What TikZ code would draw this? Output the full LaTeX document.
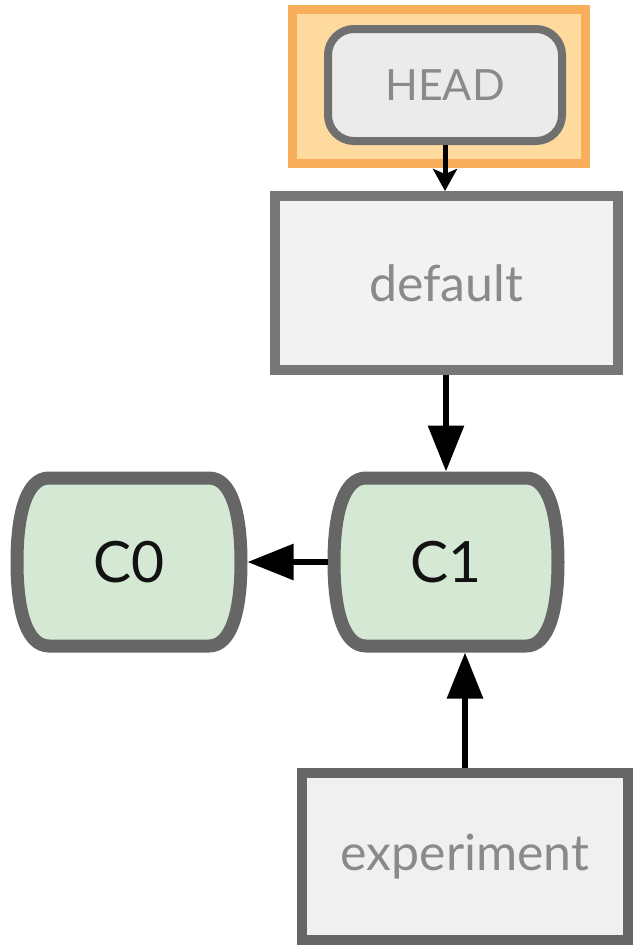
\documentclass[tikz,border=0pt]{standalone}
\usepackage{fontspec}
\setmainfont{Lato}
\usetikzlibrary{arrows.meta}

\definecolor{refstroke}{HTML}{777777}
\definecolor{reffill}{HTML}{F2F2F2}
\definecolor{reftext}{HTML}{8A8A8A}
\definecolor{commitstroke}{HTML}{666666}
\definecolor{commitfill}{HTML}{D5E8D4}
\definecolor{headstroke}{HTML}{F9AE5B}
\definecolor{headfill}{HTML}{FEDA9F}

\tikzset{
	refbox/.style={draw=refstroke, fill=reffill, line width=10pt, text=reftext,
		font=\fontsize{50}{50}\selectfont, inner sep=0pt},
	commit/.style={minimum width=237pt, minimum height=181pt, outer sep=0pt,
		inner sep=0pt, font=\fontsize{57}{57}\selectfont, text=black!93},
	commit line/.style={draw=commitstroke, fill=commitfill, line width=13pt},
	link/.style={line width=6pt, -{Triangle[length=46pt,width=35pt]}}
}
\def\commit#1(#2)#3{%
	\draw[commit line, shift={(#2)}] (-80,-84) -- (80,-84)
		.. controls (102,-84) and (112,-50) .. (112,0)
		.. controls (112,50) and (102,84) .. (80,84) -- (-80,84)
		.. controls (-102,84) and (-112,50) .. (-112,0)
		.. controls (-112,-50) and (-102,-84) .. (-80,-84) -- cycle;
	\node[commit] (#1) at (#2) {#3};}

\begin{document}
\begin{tikzpicture}[x=1pt, y=-1pt]
		\useasboundingbox (0,0) rectangle (634,946);
		
		% HEAD pointer
		\node[draw=headstroke, fill=headfill, line width=9pt, minimum width=293pt,
			minimum height=154pt] (headbox) at (439,86.5) {};
		\node[draw=refstroke!105, fill=black!8, line width=8pt, rounded corners=26pt,
			minimum width=234pt, minimum height=112pt, text=reftext,
			font=\fontsize{43}{43}\selectfont] (head) at (445,85) {HEAD};
		
		% branches
		\node[refbox, minimum width=343pt, minimum height=174pt] (default) at (446,283) {default};
		\node[refbox, draw=commitstroke, fill=black!6, minimum width=326pt,
			minimum height=167pt] (experiment) at (465,856.5) {experiment};
		
		% commits
		\commit C0(129,562){C0}
		\commit C1(446,562){C1}
		
		% arrows
		\draw[line width=5pt, -{Stealth[length=22pt,width=24pt,inset=5pt]}]
			(head.south) -- (head.south |- default.north);
		\draw[link] (default) -- (C1);
		\draw[link] (C1) -- (C0);
		\draw[link] (experiment.north) -- (experiment.north |- C1.south);
		
	\end{tikzpicture}
\end{document}
